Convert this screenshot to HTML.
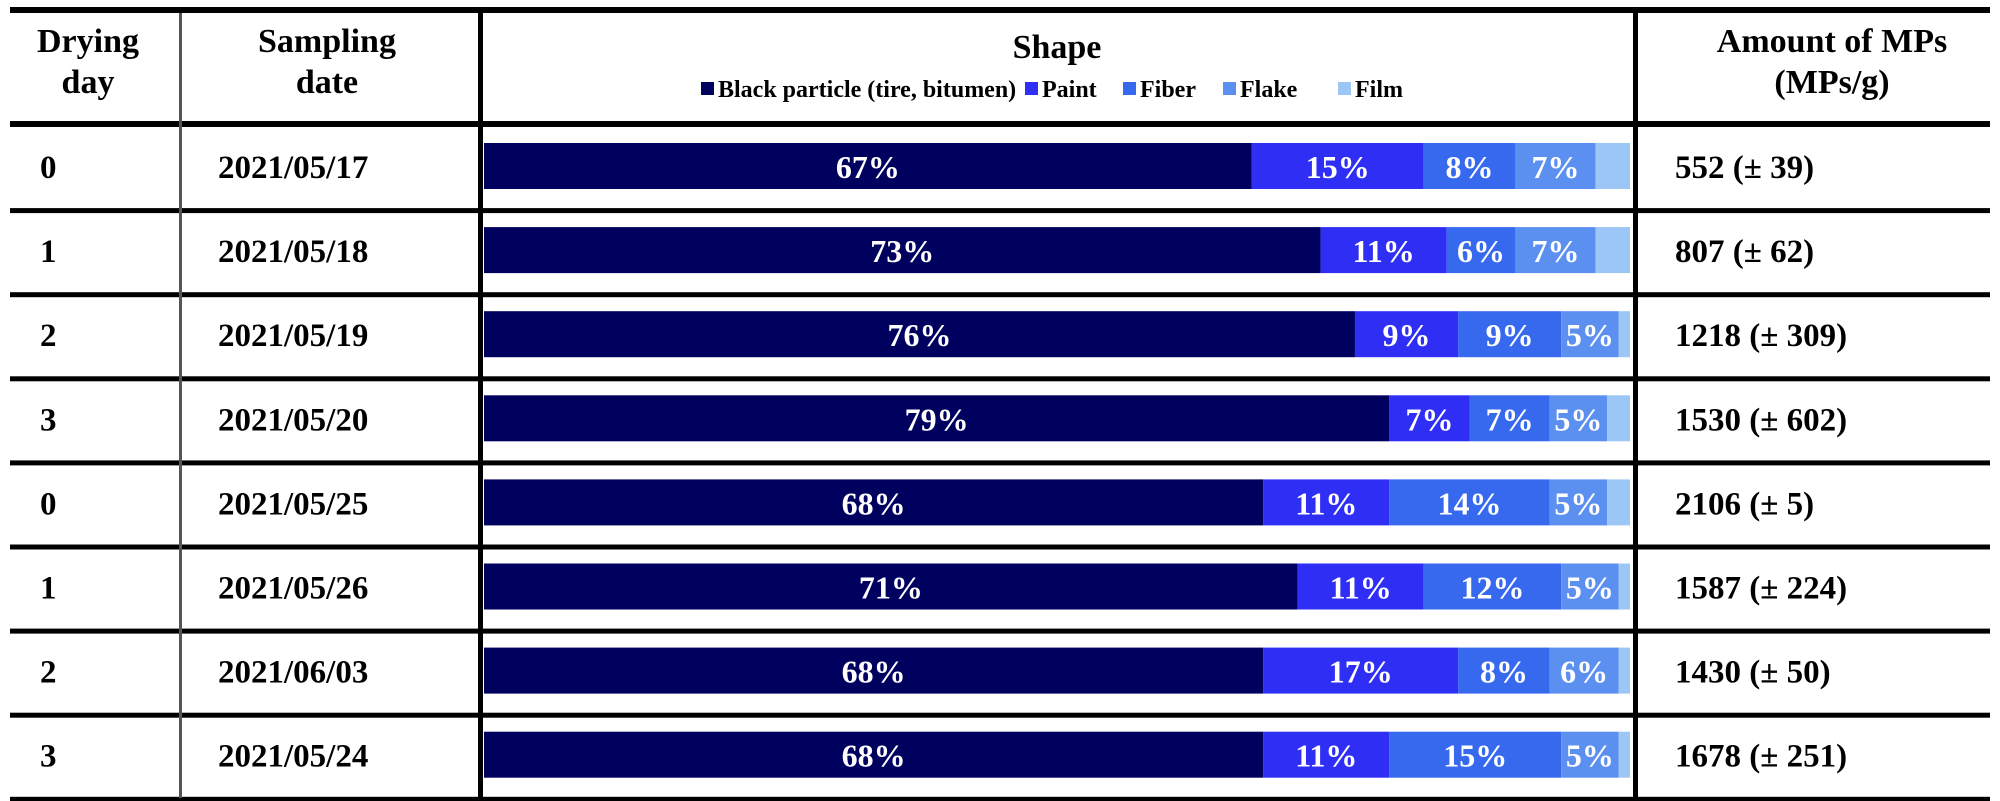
<!DOCTYPE html>
<html><head><meta charset="utf-8"><style>
html,body{margin:0;padding:0;background:#fff;width:2000px;height:801px;overflow:hidden}
svg text{font-family:"Liberation Serif",serif;font-weight:bold}
</style></head><body>
<svg id="chart" width="2000" height="801" viewBox="0 0 2000 801" xmlns="http://www.w3.org/2000/svg">
<g id="grid"></g>
<g id="header">
<text x="88" y="52" font-size="34" text-anchor="middle">Drying</text>
<text x="88" y="93" font-size="34" text-anchor="middle">day</text>
<text x="327" y="52" font-size="34" text-anchor="middle">Sampling</text>
<text x="327" y="93" font-size="34" text-anchor="middle">date</text>
<text x="1057" y="58" font-size="34" text-anchor="middle">Shape</text>
<text x="1832" y="52" font-size="34" text-anchor="middle">Amount of MPs</text>
<text x="1832" y="93" font-size="34" text-anchor="middle">(MPs/g)</text>
</g>
<g id="legend"></g>
<g id="rows"></g>
</svg>
<script>
const days = ["0","1","2","3","0","1","2","3"];
const dates = ["2021/05/17","2021/05/18","2021/05/19","2021/05/20","2021/05/25","2021/05/26","2021/06/03","2021/05/24"];
const amounts = ["552 (± 39)","807 (± 62)","1218 (± 309)","1530 (± 602)","2106 (± 5)","1587 (± 224)","1430 (± 50)","1678 (± 251)"];
const categories = ["Black particle (tire, bitumen)","Paint","Fiber","Flake","Film"];
const blackVals = [67,73,76,79,68,71,68,68];
const paintVals = [15,11,9,7,11,11,17,11];
const fiberVals = [8,6,9,7,14,12,8,15];
const flakeVals = [7,7,5,5,5,5,6,5];
const filmVals = [3,3,1,2,2,1,1,1];

const NS="http://www.w3.org/2000/svg";
const colors=["#00005f","#2e2ef5","#3669ee","#5b90f0","#9cc6f6"];
const barX0=484, barW=1146;
function xScale(v){return v/100*barW;}
const rowTop0=127, rowH=84.1;
function rowY(i){return rowTop0+i*rowH;}
function mk(tag,attrs,parent){const e=document.createElementNS(NS,tag);for(const k in attrs)e.setAttribute(k,attrs[k]);parent.appendChild(e);return e;}

const grid=document.getElementById('grid');
let l=mk('rect',{x:10,y:7,width:1980,height:6,fill:'#000'},grid);


for(let i=0;i<=8;i++){
  const y=(i===0?121:rowY(i)-3);
  const r=mk('rect',{x:10,y:y,width:1980,height:i===0?6:5,fill:'#000'},grid);
  
  
}
let v1=mk('rect',{x:179,y:13,width:3,height:785,fill:'#555'},grid);


let v2=mk('rect',{x:478,y:13,width:5,height:785,fill:'#000'},grid);


let v3=mk('rect',{x:1633,y:13,width:5,height:785,fill:'#000'},grid);



const legend=document.getElementById('legend');
const legX=[701,1025,1123,1223,1338];
categories.forEach((c,k)=>{
  const g=mk('g',{},legend);
  
  
  mk('rect',{x:legX[k],y:82,width:13,height:13,fill:colors[k]},g);
  const t=mk('text',{x:legX[k]+17,y:97,'font-size':24},g);
  t.textContent=c;
});

const rows=document.getElementById('rows');
const series=[blackVals,paintVals,fiberVals,flakeVals,filmVals];
for(let i=0;i<8;i++){
  const top=rowY(i);
  const g=mk('g',{},rows);
  
  
  const base=top+51;
  const d=mk('text',{x:40,y:base,'font-size':33},g);
  
  
  d.textContent=days[i];
  const dt=mk('text',{x:218,y:base,'font-size':33},g);
  
  
  dt.textContent=dates[i];
  const am=mk('text',{x:1675,y:base,'font-size':33},g);
  
  
  am.textContent=amounts[i];
  let acc=0;
  for(let k=0;k<5;k++){
    const v=series[k][i];
    const x=barX0+xScale(acc);
    const w=xScale(v);
    const r=mk('rect',{x:x,y:top+16,width:w,height:46,fill:colors[k]},g);
    
    
    if(k<4){
      const t=mk('text',{x:x+w/2,y:top+51,'font-size':32,fill:'#fff','text-anchor':'middle'},g);
      
      
      t.textContent=v+'%';
    }
    acc+=v;
  }
}
</script>
</body></html>
